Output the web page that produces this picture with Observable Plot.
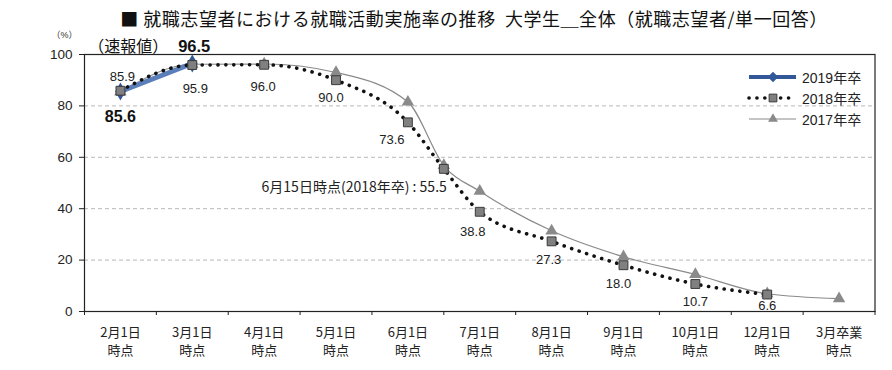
<!DOCTYPE html>
<html><head><meta charset="utf-8">
<script src="https://cdn.jsdelivr.net/npm/d3@7"></script>
<script src="https://cdn.jsdelivr.net/npm/@observablehq/plot@0.6"></script>
<style>
body{margin:0;background:#fff;}
#wrap{position:relative;width:892px;height:370px;}
#title{position:absolute;left:0;width:892px;top:5px;text-align:center;padding-left:56px;box-sizing:border-box;font-family:"Noto Sans CJK JP",sans-serif;font-size:18px;color:#111;white-space:pre;letter-spacing:0.55px;}
#legend{position:absolute;left:746px;top:66px;font-family:"Liberation Sans","Noto Sans CJK JP",sans-serif;font-size:14px;color:#222;}
#legend .row{height:21px;display:flex;align-items:center;}
#legend svg{margin-right:4px;}
</style></head>
<body><div id="wrap"><div id="title"></div><div id="legend"></div></div>
<script>
const title = "■ 就職志望者における就職活動実施率の推移  大学生＿全体（就職志望者/単一回答）";
const categories = ["2月1日\n時点","3月1日\n時点","4月1日\n時点","5月1日\n時点","6月1日\n時点","7月1日\n時点","8月1日\n時点","9月1日\n時点","10月1日\n時点","12月1日\n時点","3月卒業\n時点"];
const series = ["2019年卒","2018年卒","2017年卒"];
const pos2019 = [0, 1];
const val2019 = [85.6, 96.5];
const pos2018 = [0, 1, 2, 3, 4, 4.5, 5, 6, 7, 8, 9];
const val2018 = [85.9, 95.9, 96.0, 90.0, 73.6, 55.5, 38.8, 27.3, 18.0, 10.7, 6.6];
const pos2017 = [0, 1, 2, 3, 4, 4.5, 5, 6, 7, 8, 9, 10];
const val2017 = [85.4, 96.2, 96.3, 93.0, 81.5, 56.8, 46.8, 31.4, 21.3, 14.4, 6.9, 5.0];
const yTicks = [0, 20, 40, 60, 80, 100];
const note2019 = "（速報値）";
const note2018 = "6月15日時点(2018年卒) : ";

const d2019 = pos2019.map((p,i)=>({x:p,y:val2019[i]}));
const d2018 = pos2018.map((p,i)=>({x:p,y:val2018[i]}));
const d2017 = pos2017.map((p,i)=>({x:p,y:val2017[i]}));

document.getElementById("title").textContent = title;

const navy = "#33589A";
const FONT = "Liberation Sans, Noto Sans CJK JP, sans-serif";
// label offsets (px) for 2018 values
const off2018 = [[2,-14],[3,24],[-1,22],[-5,18],[-16,17],[0,19],[-7,20],[-3,18],[-5,19],[0,18],[0,11]];

const labelMarks = d2018.map((d,i)=> i===5
  ? Plot.text([d], {x:"x", y:"y", text: d=>note2018 + d.y.toFixed(1), textAnchor:"end", dx:3, dy:19, fontSize:14, fill:"#222", fontFamily:"Noto Sans CJK JP, sans-serif", letterSpacing:0.3})
  : Plot.text([d], {x:"x", y:"y", text: d=>d.y.toFixed(1), dx:off2018[i][0], dy:off2018[i][1], fontSize:13, fill:"#222", fontFamily:FONT}));

const boundaries = d3.range(0, categories.length + 1).map(i => i - 0.5);

const chart = Plot.plot({
  width: 892, height: 370,
  marginLeft: 84, marginRight: 17.5, marginTop: 54, marginBottom: 59,
  x: {type:"linear", domain:[-0.5, categories.length - 0.5]},
  y: {domain:[0,100]},
  style: {fontFamily: FONT, background:"#fff"},
  marks: [
    Plot.ruleY([20,40,60,80], {stroke:"#b8b8b8", strokeDasharray:"4 3", strokeWidth:1}),
    Plot.frame({stroke:"#222", strokeWidth:1.2}),
    Plot.axisY({ticks:yTicks, tickSize:5, tickPadding:7, fontSize:13.5, stroke:"#222", color:"#222", label:null}),
    Plot.axisX({ticks:boundaries, tickSize:4, tickFormat:()=>"", label:null, stroke:"#222"}),
    Plot.axisX({ticks:d3.range(categories.length), tickSize:0, tickPadding:13, tickFormat:i=>categories[i], fontSize:13, lineHeight:1.35, label:null, color:"#222", fontFamily:"Noto Sans CJK JP, sans-serif"}),
    Plot.text(["（%）"], {frameAnchor:"top-left", dx:-33, dy:-23, fontSize:9, fill:"#333"}),
    // 2017
    Plot.line(d2017, {x:"x", y:"y", stroke:"#8a8a8a", strokeWidth:1.2, curve:"monotone-x"}),
    Plot.dot(d2017, {x:"x", y:"y", symbol:"triangle", r:4.6, fill:"#8a8a8a"}),
    // 2019
    Plot.line(d2019, {x:"x", y:"y", stroke:"#5b7fba", strokeWidth:5}),
    Plot.dot(d2019, {x:"x", y:"y", symbol:"diamond", r:5.5, fill:navy}),
    // 2018
    Plot.line(d2018, {x:"x", y:"y", stroke:"#111", strokeWidth:3.6, strokeDasharray:"0.1 7.8", strokeLinecap:"round", curve:"monotone-x"}),
    Plot.dot(d2018, {x:"x", y:"y", symbol:"square", r:5, fill:"#808080", stroke:"#3a3a3a", strokeWidth:1}),
    ...labelMarks,
    Plot.text([d2019[0]], {x:"x", y:"y", text:d=>d.y.toFixed(1), dy:25, fontSize:16, fontWeight:"bold", fill:"#111"}),
    Plot.text([d2019[1]], {x:"x", y:"y", text:d=>d.y.toFixed(1), textAnchor:"end", dx:18, dy:-17, fontSize:16.5, fontWeight:"bold", fill:"#111"}),
    Plot.text([d2019[1]], {x:"x", y:"y", text:()=>note2019, textAnchor:"end", dx:-24, dy:-17, fontSize:16, fill:"#111", fontFamily:"Noto Sans CJK JP, sans-serif"})
  ]
});
document.getElementById("wrap").prepend(chart);

// legend
const leg = d3.select("#legend");
const styles = [
  {stroke:navy, width:4, dash:null, sym:"diamond", fill:navy, sstroke:"none"},
  {stroke:"#111", width:3.6, dash:"0.1 7.8", sym:"square", fill:"#808080", sstroke:"#3a3a3a"},
  {stroke:"#8a8a8a", width:1.2, dash:null, sym:"triangle", fill:"#8a8a8a", sstroke:"none"}
];
series.forEach((s,i)=>{
  const st = styles[i];
  const row = leg.append("div").attr("class","row");
  const svg = row.append("svg").attr("width",52).attr("height",14);
  svg.append("line").attr("x1",3).attr("x2",50).attr("y1",7).attr("y2",7)
    .attr("stroke",st.stroke).attr("stroke-width",st.width)
    .attr("stroke-dasharray",st.dash).attr("stroke-linecap", st.dash ? "round" : "butt");
  const symType = {diamond:d3.symbolDiamond2, square:d3.symbolSquare, triangle:d3.symbolTriangle2}[st.sym];
  svg.append("path").attr("transform","translate(27,7)")
    .attr("d", d3.symbol(symType, st.sym==="square"? 60 : 70)())
    .attr("fill",st.fill).attr("stroke",st.sstroke);
  row.append("span").text(s);
});
</script></body></html>
